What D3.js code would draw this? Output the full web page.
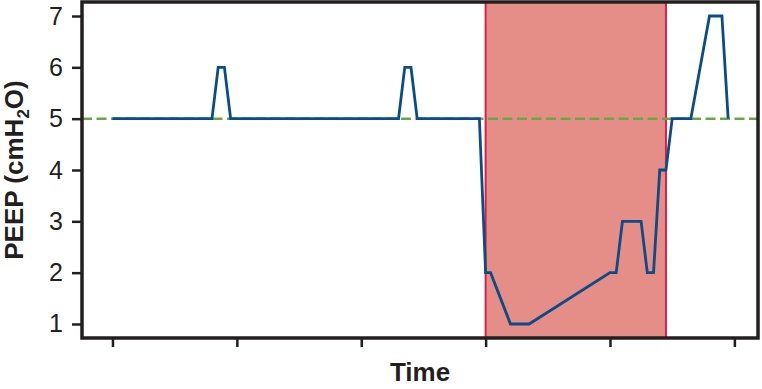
<!DOCTYPE html>
<html>
<head>
<meta charset="utf-8">
<script src="https://cdn.jsdelivr.net/npm/d3@7"></script>
<style>
  body { margin: 0; background: #fff; }
  svg { display: block; font-family: "Liberation Sans", Arial, Helvetica, sans-serif; }
  .tick text { fill: #231f20; }
</style>
</head>
<body>
<div id="chart"></div>
<script>
// PEEP readings over time (time in arbitrary units, ticks every 20)
var times = [0, 16, 17, 18, 19, 46, 47, 48, 49, 59, 60, 60.8, 64, 67, 80, 81, 82, 85, 86, 87, 88, 89, 90, 93, 96, 98, 99];
var peep  = [5, 5, 6, 6, 5, 5, 6, 6, 5, 5, 2, 2, 1, 1, 2, 2, 3, 3, 2, 2, 4, 4, 5, 5, 7, 7, 5];

var timeTicks = [0, 20, 40, 60, 80, 100];
var peepTicks = [1, 2, 3, 4, 5, 6, 7];
var targetPeep = 5;
var band = [60, 89];   // shaded interval

// SVG drawing area
var margin = {top: 2, right: 4, bottom: 51, left: 82};
var W = 762, H = 389;
var width = W - margin.left - margin.right,
    height = H - margin.top - margin.bottom;

var svg = d3.select("#chart").append("svg")
    .attr("width", W)
    .attr("height", H)
  .append("g")
    .attr("transform", "translate(" + margin.left + "," + margin.top + ")");

// Scales
var x = d3.scaleLinear()
    .domain([-4.9, 103.8])
    .range([0, width]);

var y = d3.scaleLinear()
    .domain([0.727, 7.273])
    .range([height, 0]);

// Shaded band
svg.append("rect")
    .attr("x", x(band[0]))
    .attr("y", 0)
    .attr("width", x(band[1]) - x(band[0]))
    .attr("height", height)
    .attr("fill", "#e58e88");

svg.selectAll(".band-edge")
    .data(band)
  .enter().append("line")
    .attr("class", "band-edge")
    .attr("x1", function(d) { return x(d); })
    .attr("x2", function(d) { return x(d); })
    .attr("y1", 0)
    .attr("y2", height)
    .attr("stroke", "#d81f4a")
    .attr("stroke-width", 2);

// Target line
svg.append("line")
    .attr("x1", 0)
    .attr("x2", width)
    .attr("y1", y(targetPeep))
    .attr("y2", y(targetPeep))
    .attr("stroke", "#6aa744")
    .attr("stroke-width", 2.5)
    .attr("stroke-dasharray", "10,4.5");

// PEEP line
var line = d3.line()
    .x(function(d) { return x(d[0]); })
    .y(function(d) { return y(d[1]); });

svg.append("path")
    .datum(d3.zip(times, peep))
    .attr("d", line)
    .attr("fill", "none")
    .attr("stroke", "#0a4c87")
    .attr("stroke-width", 2.8)
    .attr("stroke-linejoin", "miter");

// Frame
svg.append("rect")
    .attr("x", 0)
    .attr("y", 0)
    .attr("width", width)
    .attr("height", height)
    .attr("fill", "none")
    .attr("stroke", "#231f20")
    .attr("stroke-width", 3.5);

// Axes
var yAxis = d3.axisLeft(y)
    .tickValues(peepTicks)
    .tickFormat(d3.format("d"))
    .tickSize(10)
    .tickPadding(9);

var xAxis = d3.axisBottom(x)
    .tickValues(timeTicks)
    .tickSize(9)
    .tickFormat("");

svg.append("g")
    .attr("class", "axis y-axis")
    .call(yAxis)
    .call(function(g) {
      g.select(".domain").remove();
      g.selectAll(".tick line").attr("stroke", "#231f20").attr("stroke-width", 2.5);
      g.selectAll(".tick text").attr("font-size", 25).attr("font-family", "Liberation Sans, Arial, sans-serif");
    });

svg.append("g")
    .attr("class", "axis x-axis")
    .attr("transform", "translate(0," + height + ")")
    .call(xAxis)
    .call(function(g) {
      g.select(".domain").remove();
      g.selectAll(".tick line").attr("stroke", "#231f20").attr("stroke-width", 2.5);
    });

// Label Axes
var yLabel = svg.append("text")
    .attr("text-anchor", "middle")
    .attr("transform", "translate(" + (23 - margin.left) + "," + (height / 2) + ")rotate(-90)")
    .attr("font-size", 26)
    .attr("font-weight", "bold")
    .attr("fill", "#231f20");
yLabel.append("tspan").text("PEEP (cmH");
yLabel.append("tspan").attr("font-size", 17).attr("dy", 6).text("2");
yLabel.append("tspan").attr("dy", -6).text("O)");

svg.append("text")
    .attr("text-anchor", "middle")
    .attr("x", width / 2)
    .attr("y", height + 43)
    .attr("font-size", 26)
    .attr("font-weight", "bold")
    .attr("fill", "#231f20")
    .text("Time");
</script>
</body>
</html>
